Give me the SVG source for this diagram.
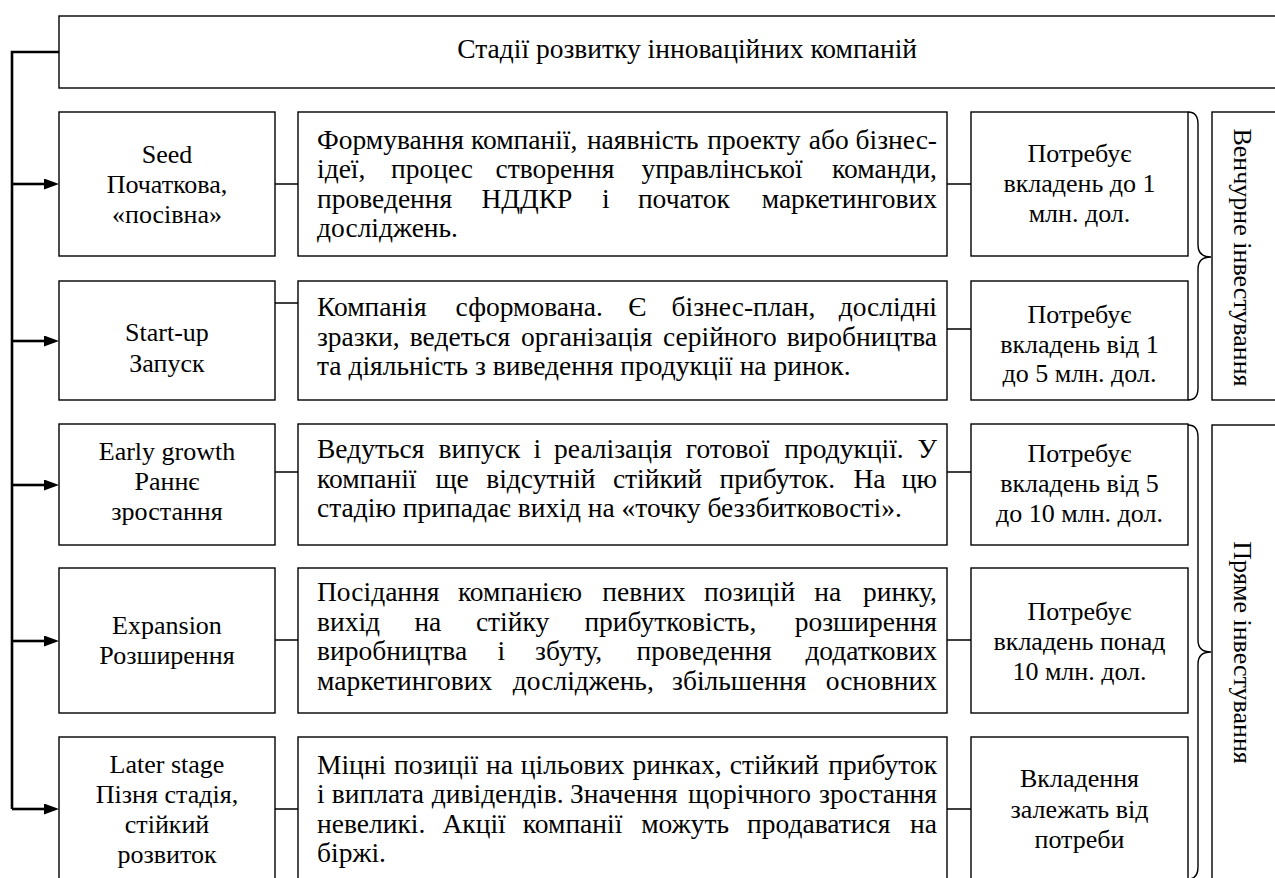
<svg xmlns="http://www.w3.org/2000/svg" width="1275" height="878" viewBox="0 0 1275 878">
<style>
.box{fill:#fff;stroke:#000;stroke-width:1.4}
.ln{fill:none;stroke:#000;stroke-width:1.4}
.bus{fill:none;stroke:#000;stroke-width:2.6}
.t{font-family:"Liberation Serif","Times New Roman",serif;font-size:26px;fill:#000}
.d{font-size:27.5px}
.c{text-anchor:middle}
.e{text-anchor:end}
</style>
<defs>
<marker id="ah" markerUnits="userSpaceOnUse" markerWidth="16" markerHeight="12" refX="0" refY="5.5" orient="auto">
<path d="M0,0 L15,5.5 L0,11 z" fill="#000"/>
</marker>
</defs>
<rect width="1275" height="878" fill="#fff"/>

<g id="connectors">
<path class="bus" d="M59,52 H12 V809"/>
<path class="bus" d="M12,184 H44" marker-end="url(#ah)"/>
<path class="bus" d="M12,341 H44" marker-end="url(#ah)"/>
<path class="bus" d="M12,485 H44" marker-end="url(#ah)"/>
<path class="bus" d="M12,641 H44" marker-end="url(#ah)"/>
<path class="bus" d="M12,809 H44" marker-end="url(#ah)"/>
<path class="ln" d="M275,184 H298 M275,303 H298 M275,472 H298 M275,640 H298 M275,809 H298"/>
<path class="ln" d="M947,184 H971 M947,329 H971 M947,472 H971 M947,640 H971 M947,809 H971"/>
<path class="ln" d="M1188,112 Q1198,112 1198,124 L1198,245 Q1198,257 1211,257 Q1198,257 1198,269 L1198,388 Q1198,400 1188,400"/>
<path class="ln" d="M1188,425 Q1198,425 1198,437 L1198,640 Q1198,652 1211,652 Q1198,652 1198,664 L1198,867 Q1198,879 1188,879"/>
</g>

<g id="title">
<rect class="box" x="59" y="16" width="1240" height="72"/>
<text class="t d e" x="917" y="58">Стадії розвитку інноваційних компаній</text>
</g>

<g id="venture">
<rect class="box" x="1212" y="112" width="80" height="288"/>
<text class="t c" transform="translate(1234,257.5) rotate(90)">Венчурне інвестування</text>
</g>
<g id="direct">
<rect class="box" x="1212" y="425" width="80" height="480"/>
<text class="t c" transform="translate(1234,652.5) rotate(90)">Пряме інвестування</text>
</g>

<g id="stage-seed">
<rect class="box" x="59" y="112" width="216" height="144"/>
<text class="t c" x="167" y="163">Seed</text>
<text class="t c" x="167" y="193">Початкова,</text>
<text class="t c" x="167" y="222.5">«посівна»</text>
</g>
<g id="desc-seed">
<rect class="box" x="298" y="112" width="649" height="144"/>
<text class="t d" y="148.5"><tspan x="317">Формування</tspan><tspan x="471">компанії,</tspan><tspan x="586.9">наявність</tspan><tspan x="707.3">проекту</tspan><tspan x="808.7">або</tspan></text>
<text class="t d e" x="937" y="148.5">бізнес-</text>
<text class="t d" y="178"><tspan x="317">ідеї,</tspan><tspan x="391">процес</tspan><tspan x="495.6">створення</tspan><tspan x="641.4">управлінської</tspan></text>
<text class="t d e" x="937" y="178">команди,</text>
<text class="t d" y="207.5"><tspan x="317">проведення</tspan><tspan x="481.4">НДДКР</tspan><tspan x="602">і</tspan><tspan x="637.9">початок</tspan></text>
<text class="t d e" x="937" y="207.5">маркетингових</text>
<text class="t d" x="317" y="237">досліджень.</text>
</g>
<g id="amount-seed">
<rect class="box" x="971" y="112" width="217" height="144"/>
<text class="t c" x="1079.5" y="162">Потребує</text>
<text class="t c" x="1079.5" y="192">вкладень до 1</text>
<text class="t c" x="1079.5" y="221.5">млн. дол.</text>
</g>

<g id="stage-startup">
<rect class="box" x="59" y="281" width="216" height="119"/>
<text class="t c" x="167" y="341">Start-up</text>
<text class="t c" x="167" y="372">Запуск</text>
</g>
<g id="desc-startup">
<rect class="box" x="298" y="281" width="649" height="119"/>
<text class="t d" y="316"><tspan x="317">Компанія</tspan><tspan x="455.6">сформована.</tspan><tspan x="628.2">Є</tspan><tspan x="671.6">бізнес-план,</tspan></text>
<text class="t d e" x="937" y="316">дослідні</text>
<text class="t d" y="345.5"><tspan x="317">зразки,</tspan><tspan x="409.8">ведеться</tspan><tspan x="521">організація</tspan><tspan x="663">серійного</tspan></text>
<text class="t d e" x="937" y="345.5">виробництва</text>
<text class="t d" x="317" y="375">та діяльність з виведення продукції на ринок.</text>
</g>
<g id="amount-startup">
<rect class="box" x="971" y="281" width="217" height="119"/>
<text class="t c" x="1079.5" y="323">Потребує</text>
<text class="t c" x="1079.5" y="352.5">вкладень від 1</text>
<text class="t c" x="1079.5" y="382">до 5 млн. дол.</text>
</g>

<g id="stage-early">
<rect class="box" x="59" y="424" width="216" height="121"/>
<text class="t c" x="167" y="460">Early growth</text>
<text class="t c" x="167" y="490">Раннє</text>
<text class="t c" x="167" y="520">зростання</text>
</g>
<g id="desc-early">
<rect class="box" x="298" y="424" width="649" height="121"/>
<text class="t d" y="458"><tspan x="317">Ведуться</tspan><tspan x="438.6">випуск</tspan><tspan x="533.4">і</tspan><tspan x="554.1">реалізація</tspan><tspan x="685.8">готової</tspan><tspan x="784.3">продукції.</tspan></text>
<text class="t d e" x="937" y="458">У</text>
<text class="t d" y="487.5"><tspan x="317">компанії</tspan><tspan x="435.4">ще</tspan><tspan x="486.2">відсутній</tspan><tspan x="612.9">стійкий</tspan><tspan x="719.5">прибуток.</tspan><tspan x="853.4">На</tspan></text>
<text class="t d e" x="937" y="487.5">цю</text>
<text class="t d" x="317" y="517">стадію припадає вихід на «точку беззбитковості».</text>
</g>
<g id="amount-early">
<rect class="box" x="971" y="424" width="217" height="121"/>
<text class="t c" x="1079.5" y="461.5">Потребує</text>
<text class="t c" x="1079.5" y="491.5">вкладень від 5</text>
<text class="t c" x="1079.5" y="521.5">до 10 млн. дол.</text>
</g>

<g id="stage-expansion">
<rect class="box" x="59" y="568" width="216" height="145"/>
<text class="t c" x="167" y="633.5">Expansion</text>
<text class="t c" x="167" y="664">Розширення</text>
</g>
<g id="desc-expansion">
<rect class="box" x="298" y="568" width="649" height="145"/>
<text class="t d" y="601"><tspan x="317">Посідання</tspan><tspan x="457.9">компанією</tspan><tspan x="602.3">певних</tspan><tspan x="704.1">позицій</tspan><tspan x="814.2">на</tspan></text>
<text class="t d e" x="937" y="601">ринку,</text>
<text class="t d" y="630.5"><tspan x="317">вихід</tspan><tspan x="414.4">на</tspan><tspan x="475.9">стійку</tspan><tspan x="584.4">прибутковість,</tspan></text>
<text class="t d e" x="937" y="630.5">розширення</text>
<text class="t d" y="660"><tspan x="317">виробництва</tspan><tspan x="497.5">і</tspan><tspan x="535.1">збуту,</tspan><tspan x="636.6">проведення</tspan></text>
<text class="t d e" x="937" y="660">додаткових</text>
<text class="t d" y="689.5"><tspan x="317">маркетингових</tspan><tspan x="512.8">досліджень,</tspan><tspan x="672.1">збільшення</tspan></text>
<text class="t d e" x="937" y="689.5">основних</text>
</g>
<g id="amount-expansion">
<rect class="box" x="971" y="568" width="217" height="145"/>
<text class="t c" x="1079.5" y="620">Потребує</text>
<text class="t c" x="1079.5" y="650">вкладень понад</text>
<text class="t c" x="1079.5" y="680">10 млн. дол.</text>
</g>

<g id="stage-later">
<rect class="box" x="59" y="737" width="216" height="170"/>
<text class="t c" x="167" y="773">Later stage</text>
<text class="t c" x="167" y="803">Пізня стадія,</text>
<text class="t c" x="167" y="833">стійкий</text>
<text class="t c" x="167" y="863">розвиток</text>
</g>
<g id="desc-later">
<rect class="box" x="298" y="737" width="649" height="170"/>
<text class="t d" y="773.5"><tspan x="317">Міцні</tspan><tspan x="394">позиції</tspan><tspan x="486.1">на</tspan><tspan x="520.8">цільових</tspan><tspan x="632.6">ринках,</tspan><tspan x="729.7">стійкий</tspan></text>
<text class="t d e" x="937" y="773.5">прибуток</text>
<text class="t d" y="803"><tspan x="317">і</tspan><tspan x="331.8">виплата</tspan><tspan x="431.8">дивідендів.</tspan><tspan x="570">Значення</tspan><tspan x="688.1">щорічного</tspan></text>
<text class="t d e" x="937" y="803">зростання</text>
<text class="t d" y="832.5"><tspan x="317">невеликі.</tspan><tspan x="442.5">Акції</tspan><tspan x="522.8">компанії</tspan><tspan x="641.2">можуть</tspan><tspan x="747.1">продаватися</tspan></text>
<text class="t d e" x="937" y="832.5">на</text>
<text class="t d" x="317" y="862">біржі.</text>
</g>
<g id="amount-later">
<rect class="box" x="971" y="737" width="217" height="170"/>
<text class="t c" x="1079.5" y="787">Вкладення</text>
<text class="t c" x="1079.5" y="817.5">залежать від</text>
<text class="t c" x="1079.5" y="848">потреби</text>
</g>
</svg>
